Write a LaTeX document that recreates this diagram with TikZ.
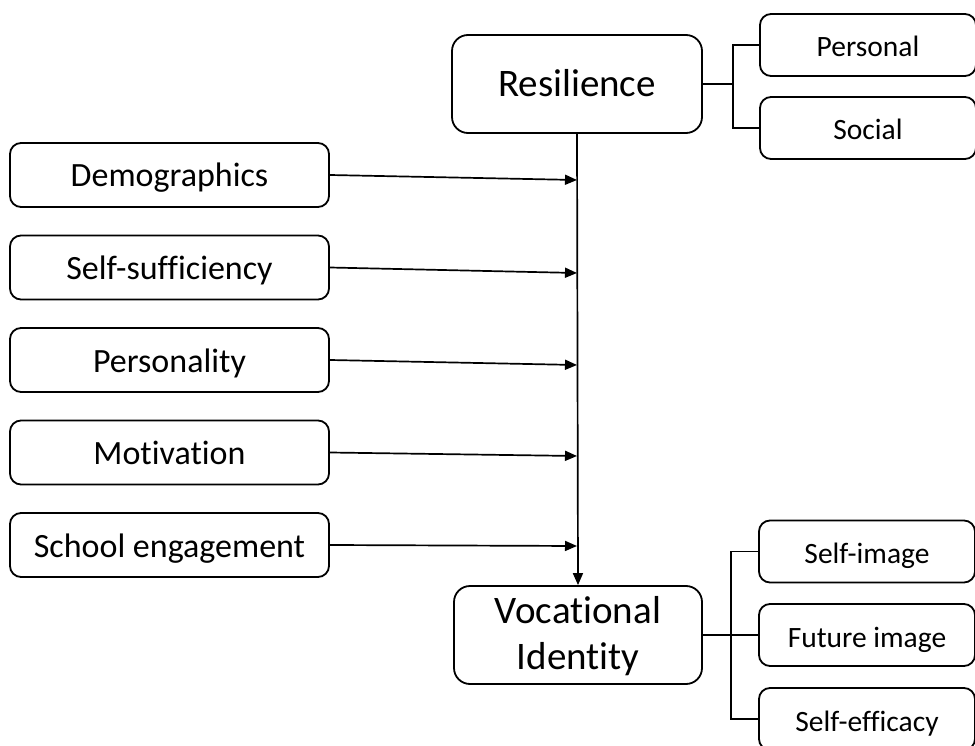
\documentclass[tikz,border=0pt]{standalone}
\usepackage{fontspec}
\setmainfont{Carlito}[Ligatures={NoCommon}]
\usetikzlibrary{arrows.meta}
\begin{document}
\begin{tikzpicture}[x=1pt,y=-1pt,
  box/.style={draw=black,line width=1.8pt,rounded corners=11pt,fill=white,inner sep=0pt,align=center},
  leftbox/.style={box,text height=28pt,text depth=4pt,minimum width=319pt,minimum height=64pt,font=\fontsize{34}{40}\selectfont},
  bigbox/.style={box,minimum width=250pt,minimum height=98pt,rounded corners=16pt,font=\fontsize{39}{44}\selectfont},
  subbox/.style={box,text height=26pt,text depth=2pt,minimum width=216pt,minimum height=62pt,font=\fontsize{29.5}{34}\selectfont},
  conn/.style={line width=1.7pt},
  arr/.style={conn,-{Triangle[length=12pt,width=10pt]}}]
\useasboundingbox (0,0) rectangle (975,746);
\clip (0,0) rectangle (975,746);
% big boxes
\node[bigbox,text height=30pt,text depth=4pt] (res) at (577,84) {Resilience};
\node[bigbox,minimum width=248pt] (voc) at (578,635) {\raisebox{-3pt}[\height][\depth]{\begin{tabular}{@{}c@{}}Vocational\\[2pt]Identity\end{tabular}}};
% left boxes
\node[leftbox] (dem) at (169.5,175) {Demographics};
\node[leftbox] (suf) at (169.5,267.5) {Self-sufficiency};
\node[leftbox] (per) at (169.5,360) {Personality};
\node[leftbox] (mot) at (169.5,452.5) {Motivation};
\node[leftbox] (sch) at (169.5,545) {School engagement};
% right boxes
\node[subbox] (pers) at (868,45) {Personal};
\node[subbox] (soc) at (868,128) {Social};
\node[subbox] (simg) at (867,551.5) {Self-image};
\node[subbox] (fimg) at (867,635) {Future image};
\node[subbox] (seff) at (867,719) {Self-efficacy};
% coordinates
\coordinate (rb) at (733,84);
\coordinate (vb) at (731,635);
% main vertical arrow
\draw[arr] (res.south) -- (voc.north);
% inputs
\foreach \n/\y in {dem/180,suf/273,per/365,mot/456,sch/546}{
  \draw[arr] (\n.east) -- (577,\y);
}
% resilience bracket
\draw[conn] (res.east) -- (rb);
\draw[conn] (pers.west) -- (pers.west -| rb) -- (soc.west -| rb) -- (soc.west);
% vocational bracket
\draw[conn] (voc.east) -- (fimg.west);
\draw[conn] (simg.west) -- (simg.west -| vb) -- (seff.west -| vb) -- (seff.west);
\end{tikzpicture}
\end{document}
